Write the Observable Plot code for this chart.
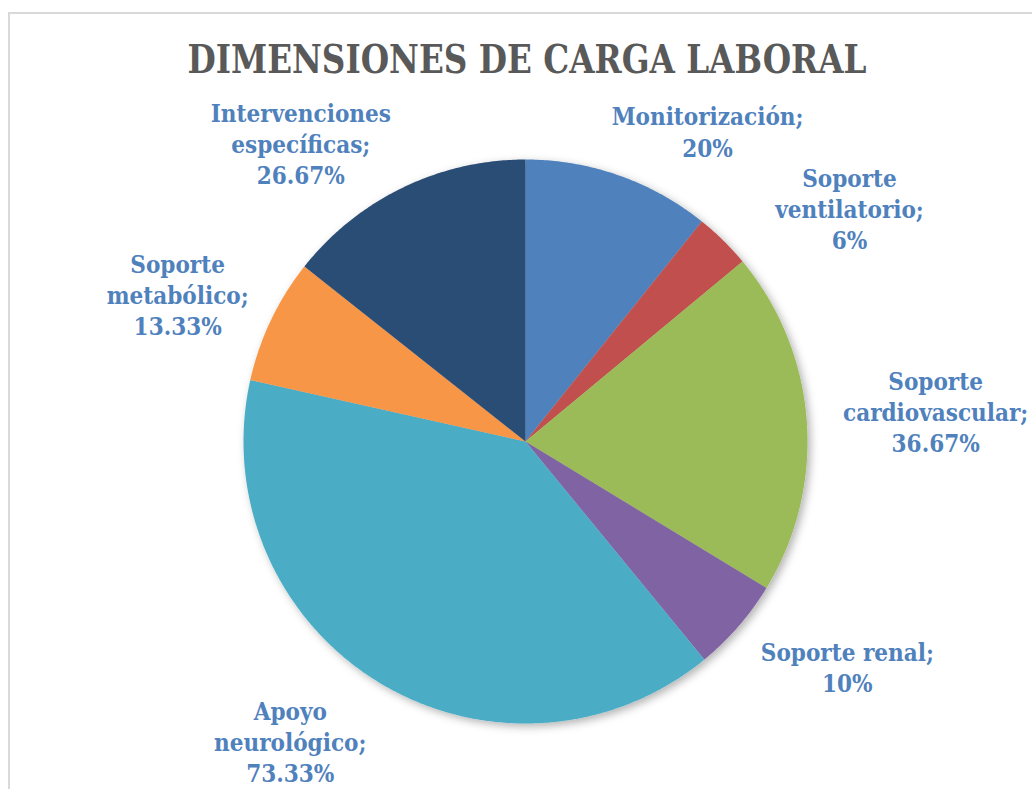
<!DOCTYPE html>
<html>
<head>
<meta charset="utf-8">
<script src="https://cdn.jsdelivr.net/npm/d3@7"></script>
<script src="https://cdn.jsdelivr.net/npm/@observablehq/plot@0.6"></script>
<style>
  html, body { margin: 0; padding: 0; background: #fff; }
  #chart { position: relative; width: 1032px; height: 789px; overflow: hidden; }
  #frame { position: absolute; left: 8px; top: 12px; width: 1040px; height: 800px;
           border-left: 2px solid #d9d9d9; border-top: 2px solid #d9d9d9; box-sizing: border-box; }
  #chart svg { position: absolute; left: 0; top: 0; }
</style>
</head>
<body>
<div id="chart"><div id="frame"></div></div>
<script>
// ---- data ----
const title = "DIMENSIONES DE CARGA LABORAL";
const categories = [
  "Monitorización",
  "Soporte ventilatorio",
  "Soporte cardiovascular",
  "Soporte renal",
  "Apoyo neurológico",
  "Soporte metabólico",
  "Intervenciones específicas"
];
const values = [20, 6, 36.67, 10, 73.33, 13.33, 26.67];
const colors = ["#4F81BD", "#C0504D", "#9BBB59", "#8064A2", "#4BACC6", "#F79646", "#2C4D75"];

// ---- layout (label placement: angle in degrees clockwise from top, distance in radii) ----
const labelAngle = [30.5, 54.4, 86.0, 125.1, 218.0, 292.8, 322.9];
const labelDist  = [1.272, 1.413, 1.458, 1.395, 1.355, 1.338, 1.321];
const labelWrap  = [false, true, true, false, true, true, true];

const W = 1032, H = 789, CX = 525, CY = 441, R = 282;

const pie = d3.pie().sort(null).value(d => d)(values);

// polygon points for each slice (unit circle, y up)
const pts = [];
pie.forEach((p, i) => {
  const cat = categories[i];
  pts.push({cat, x: 0, y: 0});
  const n = Math.max(2, Math.ceil((p.endAngle - p.startAngle) / (Math.PI / 360)));
  for (let k = 0; k <= n; k++) {
    const a = p.startAngle + (p.endAngle - p.startAngle) * k / n;
    pts.push({cat, x: Math.sin(a), y: Math.cos(a)});
  }
  pts.push({cat, x: 0, y: 0});
});

const labels = categories.map((c, i) => {
  const a = labelAngle[i] * Math.PI / 180;
  const name = labelWrap[i] ? c.replace(" ", "\n") : c;
  return {
    text: name + ";\n" + values[i] + "%",
    x: Math.sin(a) * labelDist[i],
    y: Math.cos(a) * labelDist[i]
  };
});

const font = "'DejaVu Serif Condensed', 'DejaVu Serif', serif";

const svg = Plot.plot({
  width: W,
  height: H,
  margin: 0,
  x: {domain: [-CX / R, (W - CX) / R], axis: null},
  y: {domain: [-(H - CY) / R, CY / R], axis: null},
  color: {domain: categories, range: colors},
  style: {background: "transparent", overflow: "visible"},
  marks: [
    Plot.line(pts, {x: "x", y: "y", z: "cat", fill: "cat", stroke: "none", curve: "linear"}),
    Plot.text(labels, {
      x: "x", y: "y", text: "text", dy: -1.5,
      fill: "#4F81BD", fontSize: 24, fontWeight: "bold", fontFamily: font,
      lineHeight: 1.3, textAnchor: "middle"
    }),
    Plot.text([title], {
      frameAnchor: "top", dx: 10.5, dy: 44, text: d => d,
      fill: "#595959", fontSize: 40, fontWeight: "bold", fontFamily: font
    })
  ]
});

const s = d3.select(svg);
// fit the title to the reference width
s.selectAll("text").filter(function() { return this.textContent === title; })
  .attr("textLength", 679).attr("lengthAdjust", "spacingAndGlyphs");

// soft drop shadow on the pie
const defs = s.insert("defs", ":first-child");
const f = defs.append("filter").attr("id", "pieShadow")
  .attr("x", "-10%").attr("y", "-10%").attr("width", "130%").attr("height", "130%");
f.append("feDropShadow").attr("dx", 3).attr("dy", 3).attr("stdDeviation", 4)
  .attr("flood-color", "#000").attr("flood-opacity", 0.3);
s.select('g[aria-label="line"]').attr("filter", "url(#pieShadow)");

document.getElementById("chart").appendChild(svg);
</script>
</body>
</html>
